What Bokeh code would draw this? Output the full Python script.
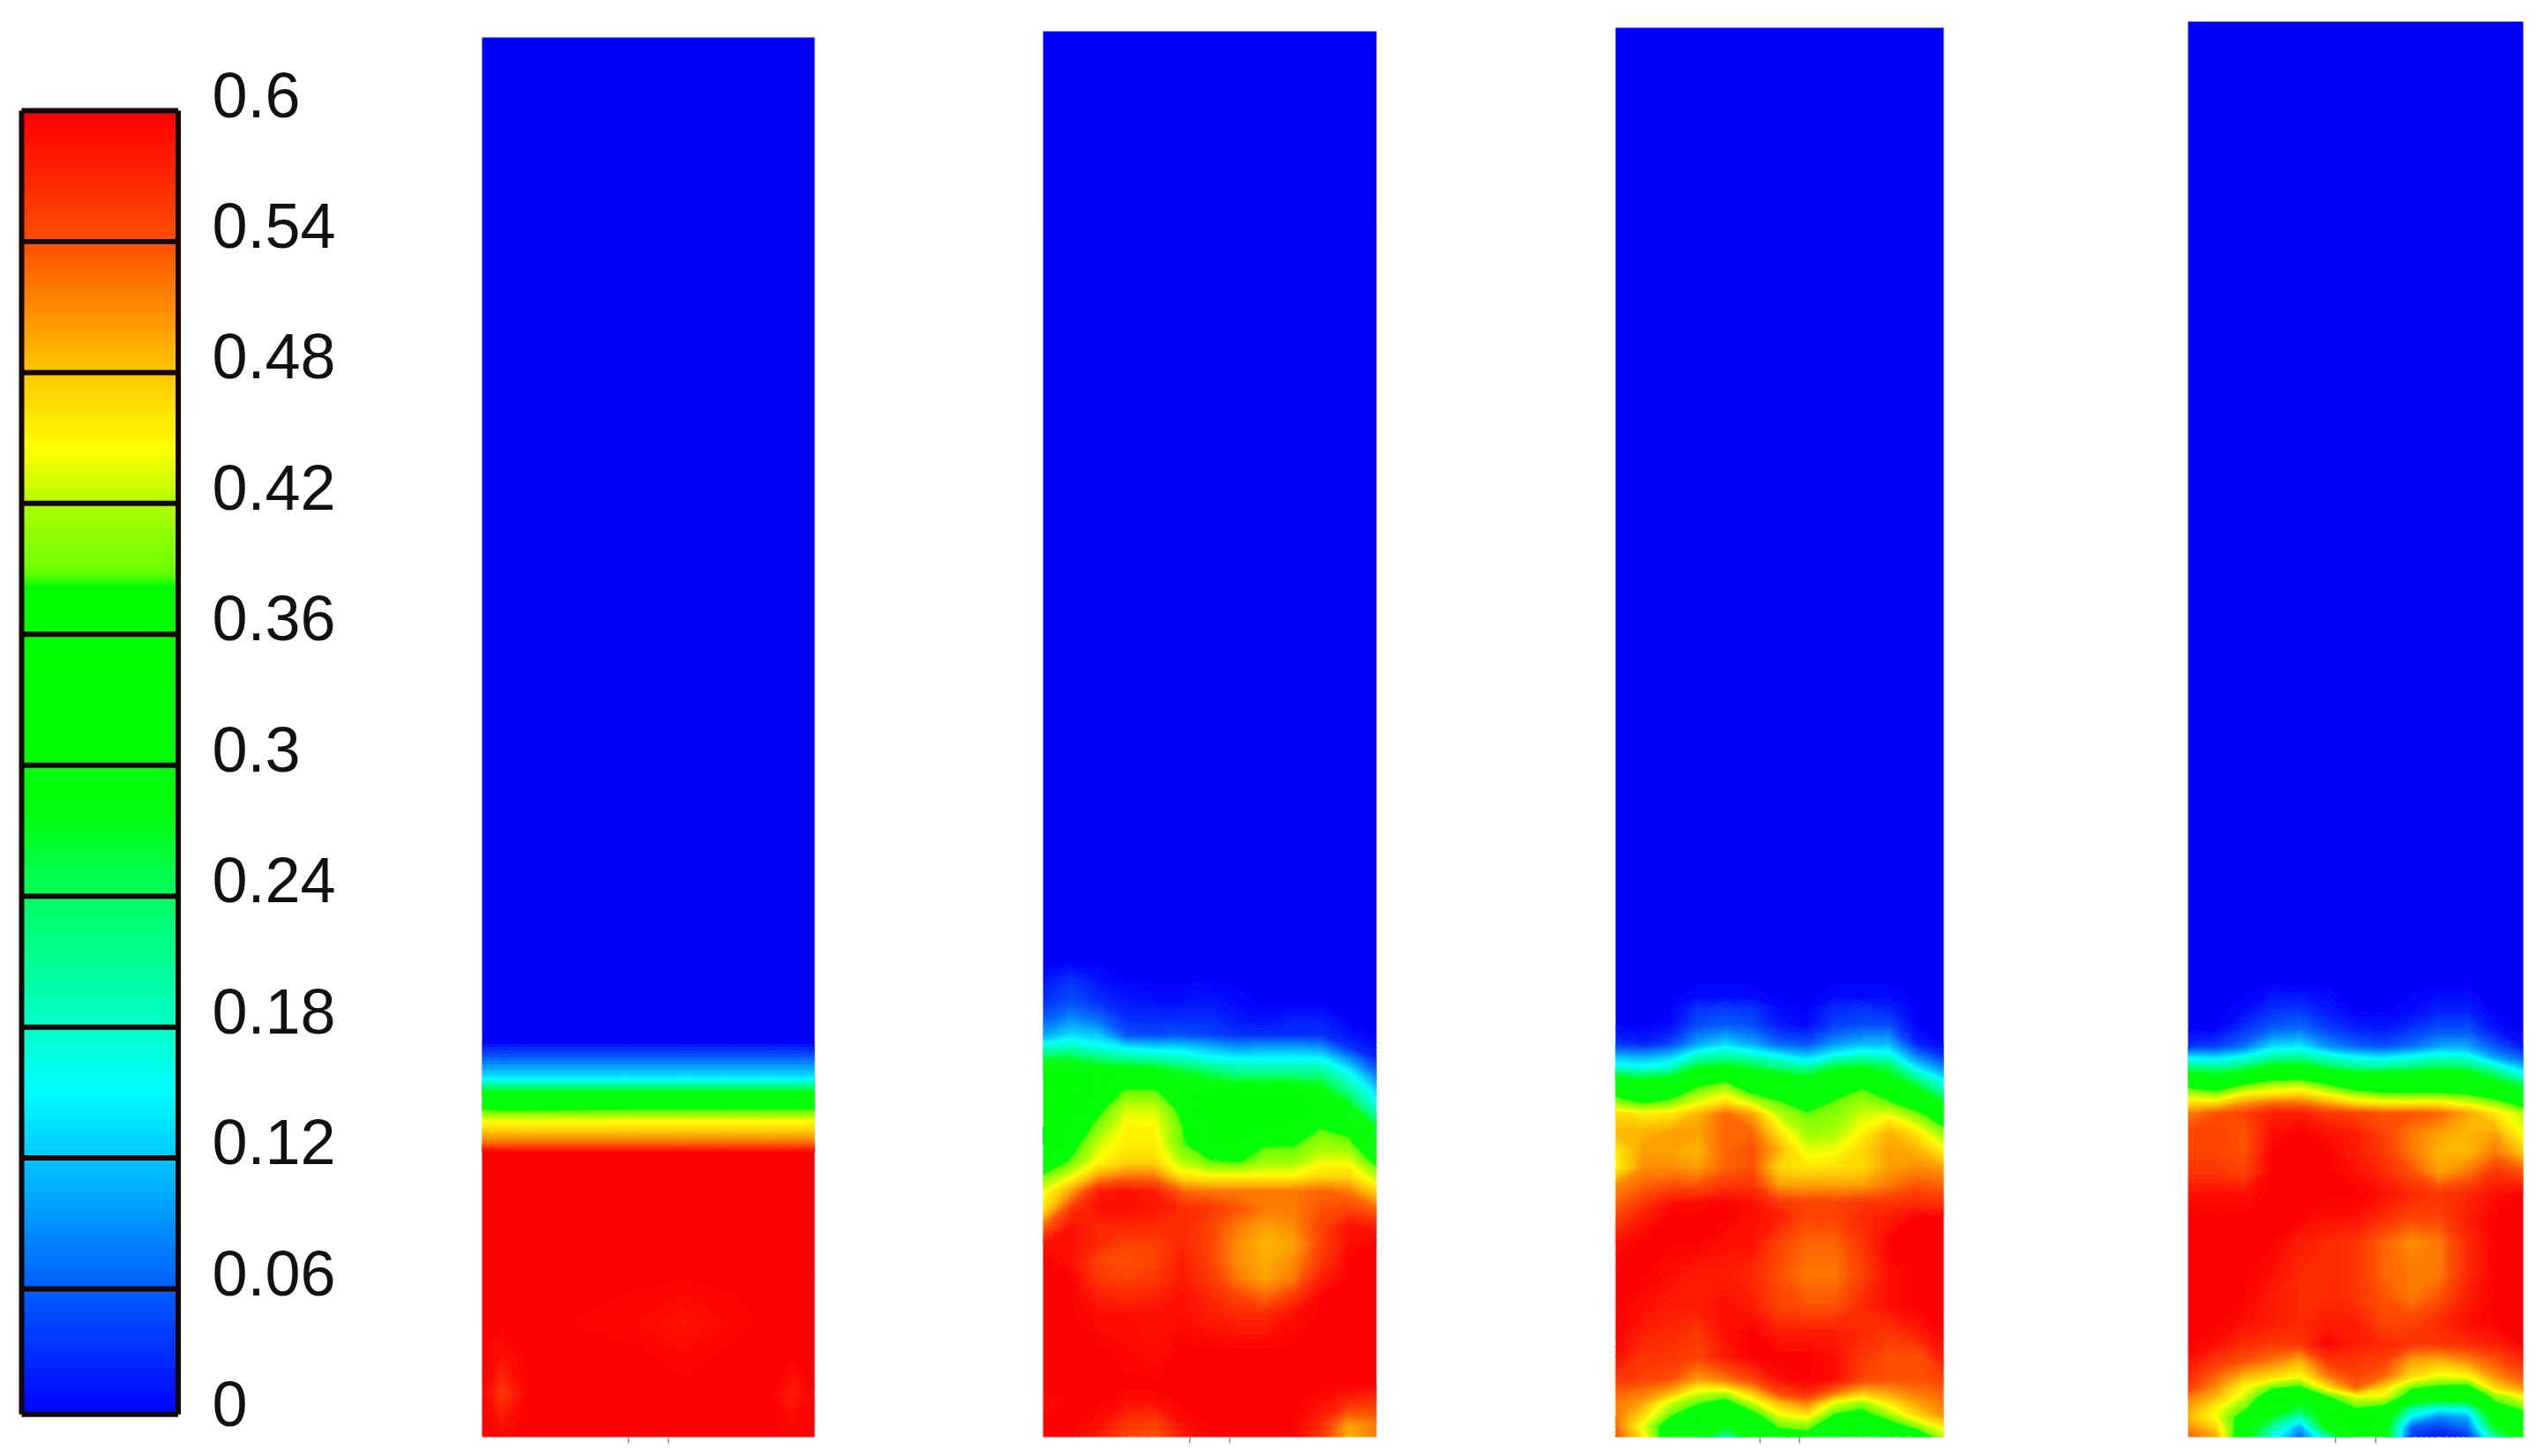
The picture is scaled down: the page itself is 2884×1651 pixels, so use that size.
# volume fraction contour panels with a rainbow legend

import numpy as np
from bokeh.core.properties import value
from bokeh.embed import file_html
from bokeh.models import ColumnDataSource, LinearColorMapper, Range1d
from bokeh.plotting import figure
from bokeh.resources import INLINE

# ---- legend data
legend_ticks = [0, 0.06, 0.12, 0.18, 0.24, 0.3, 0.36, 0.42, 0.48, 0.54, 0.6]
legend_labels = ["0", "0.06", "0.12", "0.18", "0.24", "0.3", "0.36", "0.42", "0.48", "0.54", "0.6"]
legend_floor = 0.0025  # the bar is cut off a little above its 0 tick

# colour scale (the jump at 0.385 is in the picture too)
scale_values = [0, 0.06, 0.12, 0.15, 0.18, 0.24, 0.28, 0.382, 0.388, 0.42, 0.445, 0.48, 0.54, 0.6]
scale_r = [0, 0, 0, 0, 0, 0, 0, 0, 104, 176, 255, 255, 255, 255]
scale_g = [0, 96, 200, 255, 255, 255, 255, 255, 255, 255, 255, 200, 80, 0]
scale_b = [255, 255, 255, 255, 200, 96, 10, 0, 0, 0, 0, 0, 0, 0]

# ---- panel data, rows go down the page, columns are fractions of the panel width
panel1_x = [0, 0.06, 0.14, 0.45, 0.61, 0.75, 0.87, 0.93, 1]
panel1_y = [42, 1182, 1205, 1224, 1237, 1258, 1271, 1280, 1291, 1298, 1306, 1444, 1500, 1535, 1579, 1619, 1629]
panel1_z = [
    [0, 0, 0, 0, 0, 0, 0, 0, 0],
    [0, 0, 0, 0, 0, 0, 0, 0, 0],
    [.08, .08, .08, .08, .08, .08, .08, .08, .08],
    [.15, .15, .15, .15, .15, .15, .15, .15, .15],
    [.27, .27, .27, .27, .27, .27, .27, .27, .27],
    [.385, .38, .38, .385, .385, .385, .385, .385, .385],
    [.445, .445, .445, .445, .445, .445, .445, .445, .445],
    [.47, .47, .47, .47, .47, .47, .47, .47, .47],
    [.51, .51, .51, .51, .51, .51, .51, .51, .51],
    [.54, .54, .54, .54, .54, .54, .54, .54, .54],
    [.6, .6, .6, .6, .6, .6, .6, .6, .6],
    [.6, .6, .6, .6, .6, .6, .6, .6, .6],
    [.6, .6, .6, .595, .585, .595, .6, .6, .6],
    [.6, .59, .6, .6, .595, .6, .6, .6, .6],
    [.6, .56, .6, .6, .6, .6, .6, .58, .6],
    [.6, .59, .6, .6, .6, .6, .6, .595, .6],
    [.6, .6, .6, .6, .6, .6, .6, .6, .6],
]

grid13_x = [0, 1/12, 2/12, 3/12, 4/12, 5/12, 6/12, 7/12, 8/12, 9/12, 10/12, 11/12, 1]

panel2_y = [35, 1090, 1110, 1137, 1157, 1173, 1187, 1200, 1217, 1237, 1257, 1277, 1297, 1317,
            1333, 1350, 1370, 1390, 1410, 1430, 1450, 1470, 1490, 1530, 1570, 1590, 1615, 1629]
panel2_z = [
    [0, 0, 0, 0, 0, 0, 0, 0, 0, 0, 0, 0, 0],
    [0, 0, 0, 0, 0, 0, 0, 0, 0, 0, 0, 0, 0],
    [.01, .03, .01, 0, 0, 0, 0, 0, 0, 0, 0, 0, 0],
    [.03, .05, .03, .015, .01, .01, .015, .005, 0, 0, 0, 0, 0],
    [.06, .09, .07, .03, .03, .03, .03, .015, .01, .02, .02, 0, 0],
    [.10, .13, .12, .05, .045, .05, .04, .03, .03, .03, .03, .01, 0],
    [.17, .19, .16, .14, .13, .13, .11, .09, .10, .10, .09, .03, .01],
    [.26, .26, .23, .21, .20, .18, .16, .15, .15, .15, .15, .09, .02],
    [.33, .33, .33, .33, .32, .28, .25, .22, .22, .22, .22, .16, .07],
    [.33, .33, .35, .39, .39, .34, .33, .33, .33, .33, .30, .22, .13],
    [.33, .33, .37, .43, .43, .37, .33, .33, .33, .33, .33, .30, .17],
    [.33, .34, .40, .45, .45, .385, .33, .33, .33, .33, .38, .36, .27],
    [.33, .36, .43, .455, .455, .39, .34, .33, .38, .38, .41, .40, .31],
    [.34, .39, .45, .47, .47, .42, .39, .38, .41, .41, .44, .44, .37],
    [.39, .44, .50, .52, .52, .46, .45, .45, .45, .45, .47, .47, .42],
    [.44, .50, .58, .59, .58, .53, .52, .52, .52, .52, .53, .52, .47],
    [.46, .56, .59, .59, .585, .57, .56, .54, .52, .52, .54, .55, .53],
    [.53, .59, .57, .57, .57, .57, .55, .52, .50, .51, .55, .59, .58],
    [.59, .59, .57, .55, .55, .57, .55, .51, .49, .50, .55, .59, .6],
    [.6, .59, .55, .54, .55, .58, .55, .51, .495, .51, .56, .6, .6],
    [.6, .6, .56, .55, .56, .58, .56, .52, .50, .52, .58, .6, .6],
    [.6, .6, .58, .57, .575, .59, .57, .55, .53, .56, .6, .6, .6],
    [.6, .6, .59, .59, .59, .59, .58, .57, .57, .59, .6, .6, .6],
    [.6, .6, .6, .595, .59, .6, .6, .6, .6, .6, .6, .6, .6],
    [.6, .6, .6, .6, .6, .6, .6, .6, .6, .6, .6, .6, .6],
    [.59, .6, .6, .59, .59, .6, .6, .6, .6, .6, .59, .57, .56],
    [.6, .6, .59, .56, .55, .59, .6, .6, .6, .6, .57, .50, .52],
    [.6, .6, .58, .55, .54, .58, .6, .6, .6, .6, .56, .49, .52],
]

panel3_y = [31, 1110, 1130, 1143, 1163, 1183, 1197, 1210, 1223, 1237, 1250, 1263, 1283, 1303, 1323,
            1343, 1363, 1379, 1408, 1444, 1481, 1510, 1539, 1564, 1579, 1590, 1604, 1617, 1629]
panel3_z = [
    [0, 0, 0, 0, 0, 0, 0, 0, 0, 0, 0, 0, 0],
    [0, 0, 0, 0, 0, 0, 0, 0, 0, 0, 0, 0, 0],
    [0, 0, 0, .005, .005, .005, 0, 0, .005, .005, .005, 0, 0],
    [0, 0, 0, .03, .035, .03, .005, 0, .025, .03, .02, 0, 0],
    [0, 0, .005, .05, .06, .05, .015, .005, .04, .05, .05, 0, 0],
    [.03, .02, .04, .10, .13, .10, .06, .05, .09, .11, .11, .02, 0],
    [.11, .10, .12, .18, .20, .18, .15, .12, .16, .18, .17, .08, .03],
    [.17, .16, .18, .27, .29, .26, .23, .20, .26, .28, .25, .14, .08],
    [.30, .27, .29, .35, .37, .35, .31, .30, .34, .36, .31, .22, .14],
    [.36, .33, .35, .40, .43, .37, .35, .33, .36, .39, .36, .30, .20],
    [.41, .38, .40, .44, .47, .43, .39, .35, .39, .41, .39, .34, .28],
    [.47, .46, .46, .49, .53, .50, .42, .39, .40, .43, .44, .40, .34],
    [.49, .49, .50, .50, .53, .53, .46, .41, .415, .45, .49, .46, .40],
    [.46, .50, .50, .49, .53, .54, .49, .435, .44, .47, .50, .49, .45],
    [.45, .51, .51, .50, .53, .54, .47, .46, .465, .47, .50, .51, .50],
    [.51, .53, .54, .54, .56, .56, .50, .50, .50, .50, .52, .54, .53],
    [.53, .56, .59, .59, .6, .59, .56, .55, .55, .56, .56, .57, .56],
    [.55, .58, .6, .6, .6, .59, .58, .55, .55, .57, .58, .6, .6],
    [.59, .6, .6, .6, .59, .59, .55, .53, .53, .56, .6, .6, .6],
    [.6, .6, .59, .58, .58, .57, .54, .52, .52, .55, .59, .6, .6],
    [.6, .59, .58, .58, .59, .58, .55, .54, .54, .57, .59, .6, .6],
    [.6, .58, .57, .56, .59, .6, .58, .58, .58, .57, .56, .58, .6],
    [.59, .56, .56, .55, .58, .6, .6, .6, .59, .56, .54, .54, .58],
    [.56, .55, .54, .50, .52, .55, .59, .6, .59, .55, .54, .54, .55],
    [.53, .52, .49, .43, .42, .48, .55, .57, .52, .48, .50, .52, .53],
    [.52, .50, .43, .39, .36, .43, .49, .52, .44, .41, .46, .50, .52],
    [.52, .47, .39, .33, .33, .36, .44, .46, .38, .36, .41, .47, .51],
    [.53, .44, .34, .32, .28, .33, .39, .40, .34, .33, .35, .40, .46],
    [.54, .46, .33, .30, .20, .30, .35, .36, .33, .32, .32, .33, .42],
]

panel4_y = [24, 1116, 1146, 1167, 1186, 1197, 1207, 1218, 1229, 1240, 1251, 1262, 1284, 1306, 1328,
            1353, 1379, 1408, 1444, 1470, 1500, 1523, 1543, 1560, 1573, 1583, 1597, 1607, 1617, 1629]
panel4_z = [
    [0, 0, 0, 0, 0, 0, 0, 0, 0, 0, 0, 0, 0],
    [0, 0, 0, 0, 0, 0, 0, 0, 0, 0, 0, 0, 0],
    [0, 0, .005, .03, .035, .015, 0, 0, .005, .02, .02, 0, 0],
    [0, 0, .03, .06, .07, .04, .02, .015, .03, .05, .05, .01, 0],
    [.03, .04, .07, .13, .14, .09, .06, .05, .07, .10, .10, .05, .01],
    [.13, .12, .15, .19, .20, .17, .14, .13, .15, .17, .16, .09, .05],
    [.20, .19, .22, .27, .28, .23, .20, .19, .21, .23, .22, .16, .10],
    [.30, .27, .30, .34, .34, .32, .29, .29, .30, .31, .30, .24, .16],
    [.36, .35, .38, .41, .42, .38, .34, .33, .33, .34, .33, .30, .24],
    [.42, .40, .45, .46, .47, .44, .41, .39, .39, .39, .38, .35, .30],
    [.47, .47, .51, .53, .53, .50, .47, .46, .46, .46, .44, .41, .36],
    [.52, .54, .55, .58, .58, .56, .55, .54, .54, .53, .50, .46, .42],
    [.55, .55, .54, .59, .6, .59, .58, .55, .52, .50, .49, .50, .44],
    [.55, .55, .54, .6, .6, .6, .58, .56, .52, .49, .49, .52, .48],
    [.56, .56, .55, .6, .6, .6, .59, .57, .54, .50, .52, .56, .54],
    [.59, .59, .59, .6, .6, .6, .6, .59, .57, .56, .57, .59, .6],
    [.6, .6, .6, .6, .6, .59, .59, .57, .55, .55, .58, .6, .6],
    [.6, .6, .6, .6, .58, .57, .56, .53, .51, .52, .57, .6, .6],
    [.6, .6, .6, .59, .57, .57, .56, .53, .52, .52, .57, .6, .6],
    [.6, .6, .6, .58, .57, .57, .56, .54, .52, .54, .58, .6, .6],
    [.6, .6, .59, .58, .57, .58, .58, .55, .55, .57, .59, .6, .6],
    [.6, .59, .57, .56, .56, .6, .58, .57, .56, .56, .57, .58, .6],
    [.59, .56, .54, .52, .49, .56, .56, .55, .50, .49, .51, .54, .57],
    [.57, .53, .49, .47, .45, .52, .55, .53, .47, .44, .45, .51, .54],
    [.56, .51, .45, .39, .37, .46, .53, .47, .39, .37, .36, .47, .51],
    [.52, .49, .43, .34, .33, .38, .44, .44, .35, .33, .33, .40, .45],
    [.50, .45, .39, .33, .25, .33, .38, .36, .20, .15, .17, .36, .39],
    [.49, .445, .35, .27, .18, .33, .33, .33, .14, .08, .10, .33, .35],
    [.51, .47, .34, .21, .11, .30, .33, .31, .06, .04, .07, .28, .33],
    [.53, .50, .31, .17, .06, .20, .33, .32, .03, .01, .03, .21, .31],
]

# small ticks under each panel, as fractions of its width
panel_ticks = [0.44, 0.56]

# ---- layout in page pixels, the figure starts at the corner of the shot
page_w, page_h = 2868, 1640
panel_left = [546, 1182, 1831, 2480]
panel_right = [923, 1560, 2203, 2860]
bar_left, bar_right = 24, 201.5
bar_top, bar_zero = 125, 1609.5


def colour(v):
    r = np.interp(v, scale_values, scale_r)
    g = np.interp(v, scale_values, scale_g)
    b = np.interp(v, scale_values, scale_b)
    return "#%02x%02x%02x" % (int(r), int(g), int(b))


p = figure(width=page_w, height=page_h, output_backend="svg", toolbar_location=None,
           x_range=Range1d(0, page_w), y_range=Range1d(page_h, 0),
           x_axis_type=None, y_axis_type=None, min_border=0, outline_line_color=None,
           background_fill_color="white", border_fill_color="white")
p.grid.visible = False

# ---- the panels
levels = np.linspace(-0.01, 0.61, 156)
mids = (levels[:-1] + levels[1:]) / 2
fills = [colour(v) for v in mids]
lines = [colour(v) for v in levels]

panels = [(panel1_x, panel1_y, panel1_z), (grid13_x, panel2_y, panel2_z),
          (grid13_x, panel3_y, panel3_z), (grid13_x, panel4_y, panel4_z)]
for (fx, py, pz), left, right in zip(panels, panel_left, panel_right):
    px = [left + f * (right - left) for f in fx]
    p.contour(px, py, np.array(pz), levels, fill_color=fills, line_color=lines, line_width=1)
    tick_x = [left + f * (right - left) for f in panel_ticks]
    p.segment(tick_x, [1629] * 2, tick_x, [1636] * 2, line_color="#8a8a8a", line_width=1.5)

# ---- the legend, on a y range of its own in legend units
per_px = 0.6 / (bar_zero - bar_top)
p.extra_y_ranges["legend"] = Range1d((bar_zero - page_h) * per_px, bar_zero * per_px)

mapper = LinearColorMapper(palette=[colour(v) for v in np.linspace(0, 0.6, 512)], low=0, high=0.6)
ramp = np.linspace(legend_floor, 0.6, 740).reshape(-1, 1)
p.image(image=[ramp], x=bar_left, y=legend_floor, dw=bar_right - bar_left, dh=0.6 - legend_floor,
        color_mapper=mapper, y_range_name="legend")
line_values = [legend_floor] + legend_ticks[1:]
p.segment([bar_left] * len(line_values), line_values, [bar_right] * len(line_values), line_values,
          line_color="#140404", line_width=6, y_range_name="legend")
p.segment([bar_left, bar_right], [legend_floor] * 2, [bar_left, bar_right], [0.6, 0.6],
          line_color="#140404", line_width=6, y_range_name="legend")

labels = ColumnDataSource(data=dict(x=[240] * len(legend_ticks), y=legend_ticks, text=legend_labels))
p.text(x="x", y="y", text="text", source=labels, y_offset=-18, text_font=value("Liberation Sans"),
       text_font_size="72px", text_color="#111111", text_baseline="middle", y_range_name="legend")

open("out.html", "w").write(file_html(p, INLINE))
